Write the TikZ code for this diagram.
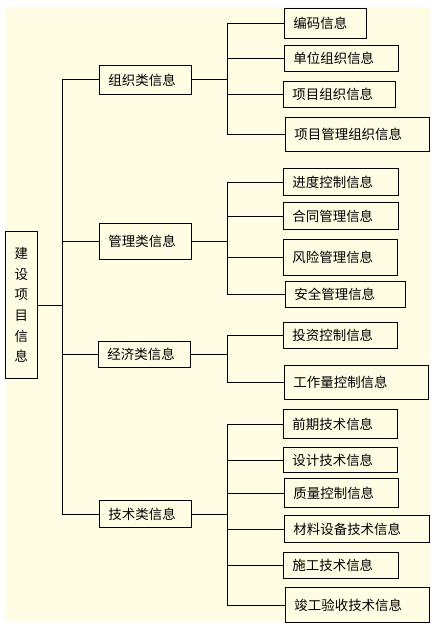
\documentclass[tikz,border=0pt]{standalone}
\usepackage{fontspec}
\setmainfont{Noto Sans CJK SC}
\definecolor{cream}{HTML}{FFFCE4}
\tikzset{
  box/.style={draw=black, line width=0.9bp, fill=cream, inner xsep=9bp, inner ysep=0bp,
    align=left, font=\fontsize{13.5}{16}\selectfont},
  link/.style={draw=black, line width=0.9bp}
}
\newcommand\bx[6]{%
  \pgfmathsetmacro\bxW{#4-#2}\pgfmathsetmacro\bxH{#5-#3}\pgfmathsetmacro\bxT{#4-#2-18}%
  \node[box, anchor=north west, minimum width=\bxW bp, minimum height=\bxH bp, text width=\bxT bp] (#1) at (#2,#3) {#6};}
\begin{document}
\begin{tikzpicture}[x=1bp,y=-1bp]
\useasboundingbox (0,0) rectangle (438,628);
\fill[white] (0,0) rectangle (438,628);
\fill[cream] (5,7) rectangle (430,621);
% coordinates of trunks
\coordinate (tr) at (62,0);
\coordinate (st) at (227,0);
% root
\node[box, anchor=north west, minimum width=32bp, minimum height=147bp, inner xsep=0bp, align=center,
  font=\fontsize{13.5}{20.8}\selectfont] (root) at (5,231) {建\\设\\项\\目\\信\\息};
% level 1
\bx{a}{99}{65}{191}{94}{组织类信息}
\bx{b}{99}{223}{191}{259}{管理类信息}
\bx{c}{98}{341}{190}{367}{经济类信息}
\bx{d}{99}{500}{191}{527}{技术类信息}
% group a
\bx{a1}{284}{8}{366}{38}{编码信息}
\bx{a2}{284}{45}{398}{71}{单位组织信息}
\bx{a3}{283}{81}{395}{107}{项目组织信息}
\bx{a4}{285}{117}{429}{151}{项目管理组织信息}
% group b
\bx{b1}{283}{168}{398}{195}{进度控制信息}
\bx{b2}{283}{202}{398}{229}{合同管理信息}
\bx{b3}{283}{239}{397}{275}{风险管理信息}
\bx{b4}{285}{281}{405}{307}{安全管理信息}
% group c
\bx{c1}{283}{322}{397}{348}{投资控制信息}
\bx{c2}{284}{365}{428}{399}{工作量控制信息}
% group d
\bx{d1}{283}{409}{397}{438}{前期技术信息}
\bx{d2}{283}{447}{397}{472}{设计技术信息}
\bx{d3}{284}{478}{398}{507}{质量控制信息}
\bx{d4}{284}{515}{429}{542}{材料设备技术信息}
\bx{d5}{283}{552}{398}{578}{施工技术信息}
\bx{d6}{285}{587}{429}{622}{竣工验收技术信息}
% main trunk
\draw[link] (root.east) -- (root.east -| tr);
\draw[link] (a.west -| tr) -- (d.west -| tr);
\foreach \n in {a,b,c,d} {\draw[link] (\n.west -| tr) -- (\n.west);
  \draw[link] (\n.east) -- (\n.east -| st);}
% sub trunks
\draw[link] (a1.west -| st) -- (a4.west -| st);
\draw[link] (b1.west -| st) -- (b4.west -| st);
\draw[link] (c1.west -| st) -- (c2.west -| st);
\draw[link] (d1.west -| st) -- (d6.west -| st);
\foreach \n in {a1,a2,a3,a4,b1,b2,b3,b4,c1,c2,d1,d2,d3,d4,d5,d6}
  {\draw[link] (\n.west -| st) -- (\n.west);}
\end{tikzpicture}
\end{document}
